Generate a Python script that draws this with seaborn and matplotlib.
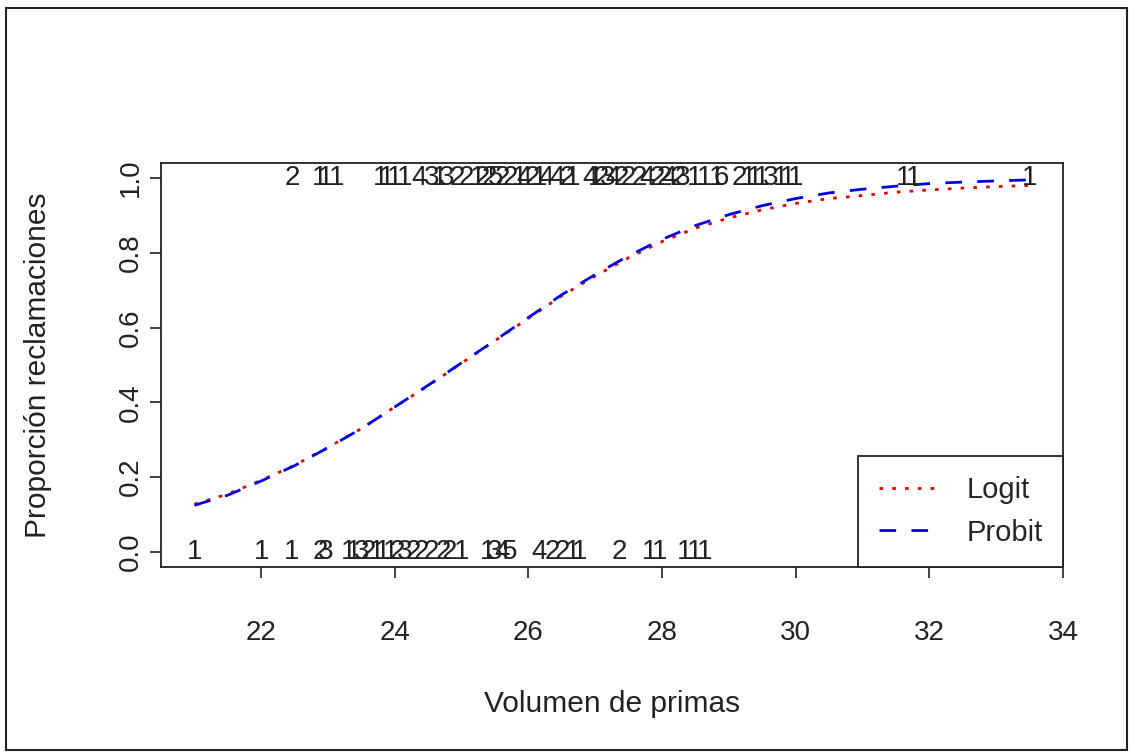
import numpy as np
import pandas as pd
import matplotlib
matplotlib.use("Agg")
import matplotlib.pyplot as plt
import seaborn as sns
from matplotlib.patches import Rectangle
from matplotlib.lines import Line2D

# ---------------- data ----------------
curve_x = [21.0, 21.5, 22.0, 22.5, 23.0, 23.5, 24.0, 24.5, 25.0, 25.5, 26.0, 26.5, 27.0,
           27.5, 28.0, 28.5, 29.0, 29.5, 30.0, 30.5, 31.0, 31.5, 32.0, 32.5, 33.0, 33.5]
logit_y = [0.128, 0.155, 0.192, 0.232, 0.280, 0.330, 0.388, 0.445, 0.505, 0.565, 0.625,
           0.685, 0.738, 0.787, 0.830, 0.866, 0.893, 0.915, 0.932, 0.945, 0.953, 0.962,
           0.968, 0.973, 0.977, 0.980]
probit_y = [0.125, 0.152, 0.190, 0.231, 0.279, 0.330, 0.388, 0.446, 0.506, 0.566, 0.627,
            0.688, 0.742, 0.792, 0.836, 0.873, 0.902, 0.926, 0.945, 0.960, 0.970, 0.978,
            0.985, 0.989, 0.992, 0.995]

# counts of observations with a claim (plotted at y = 1)
top_x = [22.46, 22.87, 22.96, 23.13, 23.79, 23.88, 24.00, 24.15, 24.37, 24.55, 24.67,
         24.78, 24.94, 25.07, 25.24, 25.31, 25.42, 25.51, 25.61, 25.73, 25.87, 25.94,
         26.06, 26.16, 26.27, 26.43, 26.58, 26.66, 26.93, 27.01, 27.09, 27.18, 27.27,
         27.39, 27.49, 27.66, 27.78, 27.93, 28.03, 28.10, 28.24, 28.31, 28.48, 28.64,
         28.81, 28.88, 29.15, 29.30, 29.39, 29.49, 29.63, 29.78, 29.88, 30.00, 31.61,
         31.76, 33.50]
top_n = ["2", "1", "1", "1", "1", "1", "1", "1", "4", "3", "1",
         "3", "2", "2", "1", "2", "2", "5", "2", "2", "1", "4",
         "2", "1", "4", "4", "2", "1", "4", "1", "2", "3", "4",
         "2", "2", "2", "4", "2", "2", "4", "2", "3", "1", "1",
         "1", "6", "2", "1", "1", "1", "3", "1", "1", "1", "1",
         "1", "1"]

# counts of observations without a claim (plotted at y = 0)
bot_x = [21.00, 22.00, 22.46, 22.88, 22.97, 23.31, 23.39, 23.51, 23.60, 23.73, 23.82,
         23.93, 24.03, 24.15, 24.27, 24.40, 24.55, 24.72, 24.82, 25.00, 25.39, 25.49,
         25.61, 25.72, 26.16, 26.36, 26.51, 26.66, 26.76, 27.36, 27.81, 27.96, 28.33,
         28.48, 28.64]
bot_n = ["1", "1", "1", "2", "3", "1", "1", "3", "2", "1", "1",
         "1", "2", "3", "2", "2", "2", "2", "2", "1", "1", "3",
         "4", "5", "4", "2", "2", "1", "1", "2", "1", "1", "1",
         "1", "1"]

x_ticks = [22, 24, 26, 28, 30, 32, 34]
y_ticks = [0.0, 0.2, 0.4, 0.6, 0.8, 1.0]

df = pd.DataFrame({
    "x": curve_x * 2,
    "y": logit_y + probit_y,
    "model": ["Logit"] * len(curve_x) + ["Probit"] * len(curve_x),
})

# ---------------- style ----------------
sns.set_style("white")
plt.rcParams["font.family"] = ["Liberation Sans", "DejaVu Sans"]
FS = 20
FS_LAB = 21.5
INK = "#222222"

fig = plt.figure(figsize=(11.32, 7.55), dpi=100)
ax = fig.add_axes([161 / 1132, 1 - 567 / 755, 902 / 1132, 404 / 755])

sns.lineplot(data=df, x="x", y="y", hue="model", style="model",
             palette={"Logit": "#e00000", "Probit": "#0000e0"},
             dashes={"Logit": (1.3, 3.3), "Probit": (6, 5.5)},
             linewidth=2, ax=ax, legend=False, sort=True)

for xv, t in zip(top_x, top_n):
    ax.text(xv, 1.0, t, ha="center", va="center", fontsize=FS, color=INK)
for xv, t in zip(bot_x, bot_n):
    ax.text(xv, 0.0, t, ha="center", va="center", fontsize=FS, color=INK)

ax.set_xlim(20.5, 34.0)
ax.set_ylim(-0.04, 1.04)
ax.set_xticks(x_ticks)
ax.set_xticklabels([str(v) for v in x_ticks], fontsize=FS, color=INK)
ax.set_yticks(y_ticks)
ax.set_yticklabels([f"{v:.1f}" for v in y_ticks], fontsize=FS, rotation=90,
                   va="center", color=INK)
ax.tick_params(axis="both", direction="out", length=8, width=1.2, color=INK,
               bottom=True, left=True)
ax.tick_params(axis="x", pad=30)
ax.tick_params(axis="y", pad=4)
for s in ax.spines.values():
    s.set_color(INK)
    s.set_linewidth(1.3)

ax.set_xlabel("Volumen de primas", fontsize=FS_LAB, color=INK, labelpad=32)
ax.set_ylabel("Proporción reclamaciones", fontsize=FS_LAB, color=INK, labelpad=48)

# legend
handles = [Line2D([], [], color="#e00000", lw=2, dashes=(1.3, 3.3)),
           Line2D([], [], color="#0000e0", lw=2, dashes=(6, 5.5))]
leg = ax.legend(handles, ["Logit", "Probit"], loc="lower right", fontsize=21,
                frameon=True, fancybox=False, edgecolor=INK, framealpha=1,
                borderaxespad=0, borderpad=0.7, labelspacing=0.5,
                handlelength=2.0, handletextpad=1.0)
leg.get_frame().set_linewidth(1.3)

# outer border of the figure
fig.patches.append(Rectangle((6 / 1132, 5 / 755), 1121 / 1132, 742 / 755,
                             transform=fig.transFigure, fill=False,
                             edgecolor=INK, linewidth=1.5))

fig.savefig("out.png", dpi=100)
